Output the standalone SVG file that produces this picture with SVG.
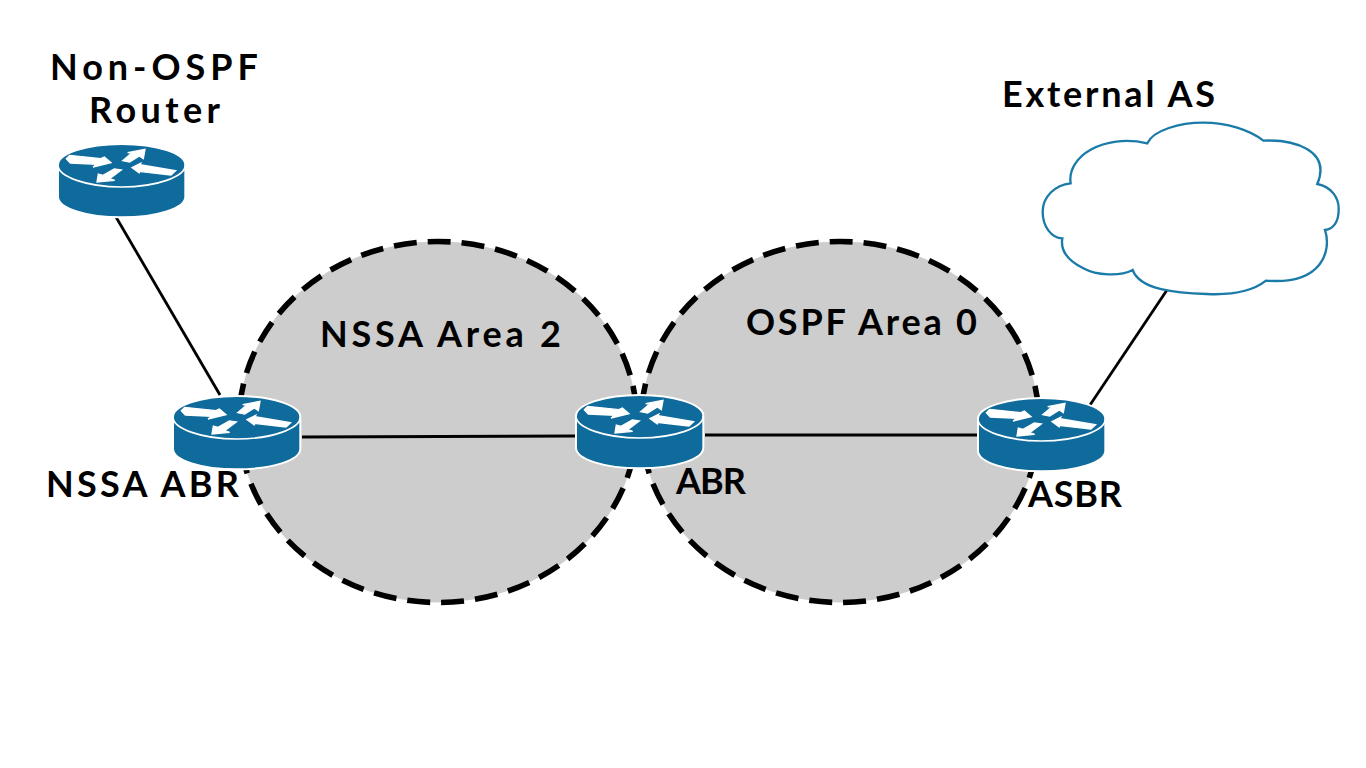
<svg xmlns="http://www.w3.org/2000/svg" width="1366" height="768" viewBox="0 0 1366 768">
<style>
.area{fill:#cdcdcd;stroke:#000;stroke-width:5.6;stroke-dasharray:23 11}
.link{stroke:#000;stroke-width:2.8;fill:none}
.lbl{font-family:"Lato","Liberation Sans",sans-serif;font-size:36px;font-weight:700;fill:#000}
.ar{fill:#fff;stroke:#fff;stroke-width:4;stroke-linejoin:miter}
</style>
<defs>
<g id="router-shape" transform="scale(.3333) translate(-55 -42)">
<path d="M55 105C55 70 141 42 246 42C351 42 437 70 437 105V200C437 235 351 262 246 262C141 262 55 235 55 200Z" fill="#0f6b9c" stroke="#fff" stroke-width="6"/>
<path d="M55 105C55 140 141 171 246 171C351 171 437 140 437 105" fill="none" stroke="#fff" stroke-width="5"/>
<polygon class="ar" points="80,86 90,76 184,86 194,81 214,98 160,111 172,103 92,99"/>
<polygon class="ar" points="249,92 276,69 264,68 316,58 311,86 299,78 270,96"/>
<polygon class="ar" points="277,113 303,100 301,104 408,122 394,135 297,124 300,130"/>
<polygon class="ar" points="172,156 176,132 190,136 224,117 245,120 210,146 225,151"/>
</g>
</defs>
<g id="area-nssa"><ellipse class="area" cx="438" cy="422" rx="199" ry="180.5"/><text class="lbl" x="320" y="347" textLength="241" lengthAdjust="spacing">NSSA Area 2</text></g>
<g id="area-ospf"><ellipse class="area" cx="840" cy="422" rx="199" ry="180.5"/><text class="lbl" x="746" y="335" textLength="231" lengthAdjust="spacing">OSPF Area 0</text></g>
<g id="connectors">
<line class="link" x1="116" y1="217" x2="220" y2="395"/>
<line class="link" x1="302" y1="437" x2="575" y2="436"/>
<line class="link" x1="705" y1="435" x2="978" y2="435"/>
<line class="link" x1="1090" y1="405" x2="1167" y2="290"/>
</g>
<g id="router-non-ospf"><use href="#router-shape" transform="translate(58 144)"/><text class="lbl" x="50" y="80" textLength="208" lengthAdjust="spacing">Non-OSPF</text><text class="lbl" x="89" y="123" textLength="131" lengthAdjust="spacing">Router</text></g>
<g id="router-nssa-abr"><use href="#router-shape" transform="translate(173 396)"/><text class="lbl" x="46" y="497" textLength="193" lengthAdjust="spacing">NSSA ABR</text></g>
<g id="router-abr"><use href="#router-shape" transform="translate(576 395)"/><text class="lbl" x="676" y="494" textLength="70" lengthAdjust="spacing">ABR</text></g>
<g id="router-asbr"><use href="#router-shape" transform="translate(978 398)"/><text class="lbl" x="1028" y="507" textLength="94" lengthAdjust="spacing">ASBR</text></g>
<g id="cloud-external"><path transform="translate(1030 110) scale(.3333)" fill="#fff" stroke="#1b7ba8" stroke-width="7" d="M352 100C370 60 450 38 520 38C590 38 660 60 700 92C790 88 905 120 862 222C905 230 928 265 926 300C926 335 910 358 885 360C905 420 880 525 708 512C660 550 590 555 530 552C440 550 330 540 308 480C270 500 200 497 160 475C120 455 90 425 97 385C65 385 38 350 38 305C38 260 75 225 122 220C110 140 220 70 352 100Z"/><text class="lbl" x="1002" y="107" textLength="213" lengthAdjust="spacing">External AS</text></g>
</svg>
